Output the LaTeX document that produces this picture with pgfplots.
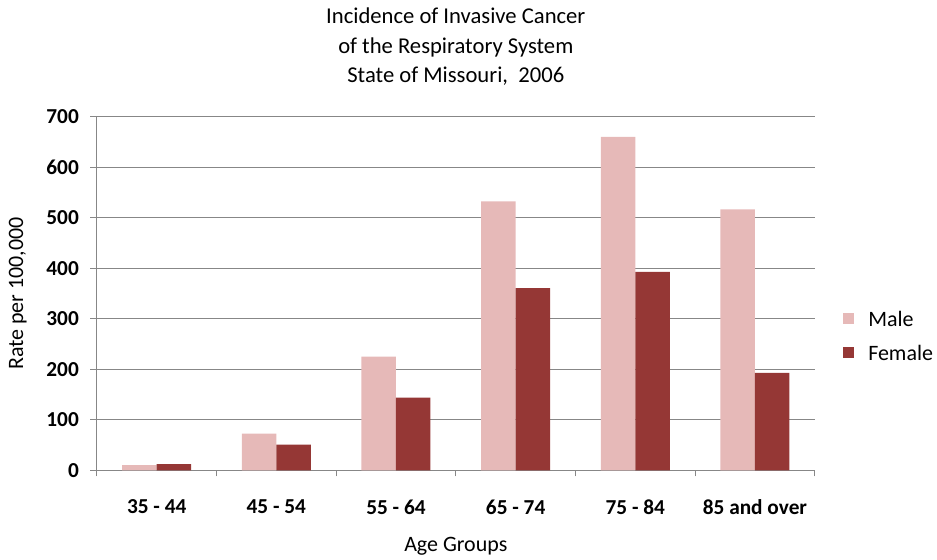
\documentclass[border=0pt]{standalone}
\usepackage{fontspec}
\setmainfont{Carlito}
\usepackage{pgfplots}
\pgfplotsset{compat=1.18}
\definecolor{male}{HTML}{E6B9B8}
\definecolor{female}{HTML}{953735}
\definecolor{gridgrey}{HTML}{878787}

\begin{document}
\begin{tikzpicture}
\begin{axis}[
    name=ax,
    scale only axis,
    width=539.25pt,
    height=265.5pt,
    ybar=0pt,
    bar width=25.9pt,
    xmin=-0.5, xmax=5.5,
    ymin=0, ymax=700,
    ytick={0,100,...,700},
    xtick={0,...,5},
    xticklabels={35 - 44, 45 - 54, 55 - 64, 65 - 74, 75 - 84, 85 and over},
    major x tick style={draw=none},
    extra x ticks={-0.5,0.5,...,5.5},
    extra x tick labels={},
    extra x tick style={major x tick style={draw=gridgrey, thick}, major tick length=4.5pt, grid=none},
    axis x line*=bottom,
    axis y line*=left,
    axis line style={gridgrey, thick},
    tick align=outside,
    major tick length=5pt,
    ymajorgrids,
    grid style={gridgrey, thick},
    y tick style={gridgrey, thick},
    tick label style={font=\fontsize{16}{18}\selectfont\bfseries},
    xticklabel style={yshift=-13.5pt},
    yticklabel style={xshift=-5pt},
    /pgf/number format/assume math mode=true,
    xlabel={Age Groups},
    ylabel={Rate per 100,000},
    label style={font=\fontsize{16.5}{18}\selectfont},
    xlabel style={at={(axis description cs:0.5,-0.215)}, anchor=center},
    ylabel style={at={(axis description cs:-0.11,0.5)}, anchor=center},
    title={Incidence of Invasive Cancer\\of the Respiratory System\\State of Missouri,\ \ 2006},
    title style={at={(axis description cs:0.5,1.176)}, anchor=center, align=center,
        font=\fontsize{17}{22}\selectfont},
    legend style={draw=none, at={(axis description cs:1.033,0.381)}, anchor=west,
        font=\fontsize{16.5}{18}\selectfont, row sep=14pt,
        nodes={inner sep=0pt, text depth=0pt}},
    legend cell align=left,
    legend image code/.code={\fill[#1] (0pt,-4.1pt) rectangle (8.2pt,4.1pt);},
]
\addplot[draw=none, fill=male] coordinates {(0,10) (1,72.5) (2,225) (3,532.6) (4,660.5) (5,516.8)};
\addplot[draw=none, fill=female] coordinates {(0,12) (1,51) (2,144) (3,360.6) (4,393) (5,193)};
\legend{\hspace{11pt}Male, \hspace{11pt}Female}
\end{axis}
\path (ax.south west) ++(-72.75pt,-63.75pt) rectangle ++(702.75pt,417pt);
\end{tikzpicture}
\end{document}
